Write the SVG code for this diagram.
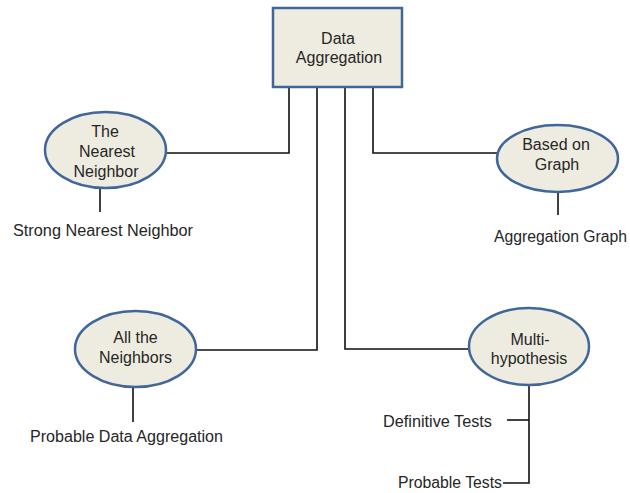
<svg xmlns="http://www.w3.org/2000/svg" width="630" height="493" viewBox="0 0 630 493">
<style>
.node{fill:#eeece1;stroke:#41679a;stroke-width:2.5}
.t{font-family:"Liberation Sans",Arial,sans-serif;font-size:16px;fill:#262626}
.c{text-anchor:middle}
.ln{fill:none;stroke:#111;stroke-width:1.6}
</style>
<rect width="630" height="493" fill="#ffffff"/>
<g id="connectors" class="ln">
<path d="M289 87 V153 H166"/>
<path d="M373 87 V153 H497"/>
<path d="M317 87 V350 H195"/>
<path d="M345 87 V349 H470"/>
<path d="M100 188 V212"/>
<path d="M558 192 V215"/>
<path d="M133 387 V422"/>
<path d="M529 385 V483 H503"/>
<path d="M507 420 H529"/>
</g>
<g id="data-aggregation">
<rect class="node" x="273" y="8" width="129" height="79"/>
<text class="t c" x="338" y="44">Data</text>
<text class="t c" x="339" y="63">Aggregation</text>
</g>
<g id="nearest-neighbor">
<ellipse class="node" cx="105.5" cy="150" rx="60.5" ry="38"/>
<text class="t c" x="105" y="137">The</text>
<text class="t c" x="107" y="157">Nearest</text>
<text class="t c" x="106" y="177">Neighbor</text>
</g>
<g id="strong-nearest-neighbor">
<text class="t" x="13" y="236" textLength="180" lengthAdjust="spacingAndGlyphs">Strong Nearest Neighbor</text>
</g>
<g id="based-on-graph">
<ellipse class="node" cx="557.5" cy="158.5" rx="60.5" ry="33.5"/>
<text class="t c" x="556" y="150">Based on</text>
<text class="t c" x="557" y="170">Graph</text>
</g>
<g id="aggregation-graph">
<text class="t" x="494" y="242" textLength="133" lengthAdjust="spacingAndGlyphs">Aggregation Graph</text>
</g>
<g id="all-neighbors">
<ellipse class="node" cx="135.5" cy="349" rx="60.5" ry="38"/>
<text class="t c" x="135.5" y="343">All the</text>
<text class="t c" x="135.5" y="363">Neighbors</text>
</g>
<g id="probable-data-aggregation">
<text class="t" x="30" y="442" textLength="193" lengthAdjust="spacingAndGlyphs">Probable Data Aggregation</text>
</g>
<g id="multi-hypothesis">
<ellipse class="node" cx="529" cy="346.5" rx="60" ry="38.5"/>
<text class="t c" x="530" y="345">Multi-</text>
<text class="t c" x="529" y="364">hypothesis</text>
</g>
<g id="definitive-tests">
<text class="t" x="383" y="427" textLength="109" lengthAdjust="spacingAndGlyphs">Definitive Tests</text>
</g>
<g id="probable-tests">
<text class="t" x="398" y="488" textLength="104" lengthAdjust="spacingAndGlyphs">Probable Tests</text>
</g>
</svg>
